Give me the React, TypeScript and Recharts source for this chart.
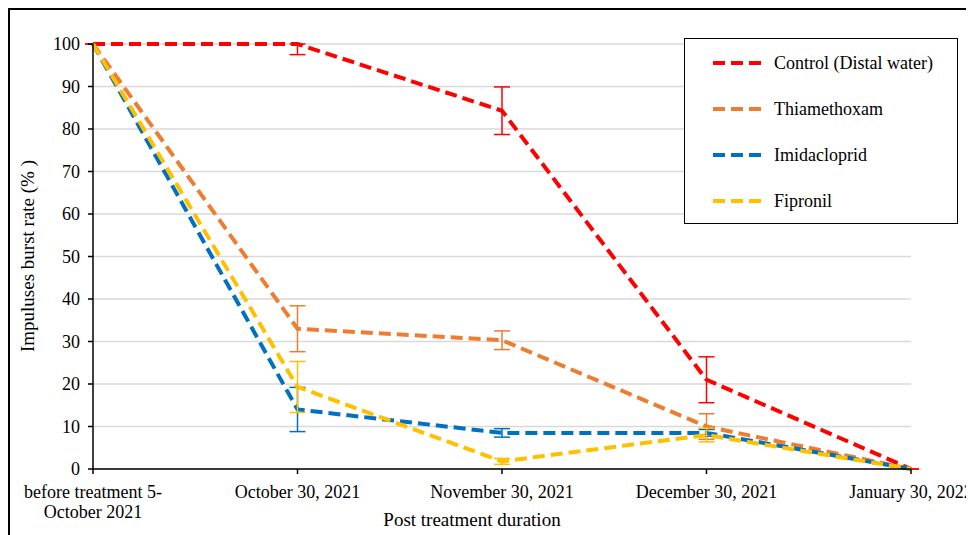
import React from "react"
import {
	LineChart,
	Line,
	XAxis,
	YAxis,
	CartesianGrid,
	ErrorBar,
	Label,
} from "recharts"

const categories = [
	"before treatment 5-|October 2021",
	"October 30, 2021",
	"November 30, 2021",
	"December 30, 2021",
	"January 30, 2022",
]

const control = [100, 100, 84.3, 21, 0]
const controlErr = [[0, 0], [2.5, 0], [5.6, 5.6], [5.4, 5.4], [0, 0]]
const thiamethoxam = [100, 33, 30.3, 10, 0]
const thiamethoxamErr = [0, 5.4, 2.2, 3, 0]
const imidacloprid = [100, 14, 8.5, 8.5, 0]
const imidaclopridErr = [0, 5.2, 1, 0.8, 0]
const fipronil = [100, 19.3, 1.8, 8, 0]
const fipronilErr = [0, 6, 0.7, 1.6, 0]

const yTicks = [0, 10, 20, 30, 40, 50, 60, 70, 80, 90, 100]

const series = [
	{ key: "control", name: "Control (Distal water)", color: "#FF0000" },
	{ key: "thiamethoxam", name: "Thiamethoxam", color: "#ED7D31" },
	{ key: "imidacloprid", name: "Imidacloprid", color: "#0070C0" },
	{ key: "fipronil", name: "Fipronil", color: "#FFC000" },
]

const data = categories.map((c, i) => ({
	cat: c,
	control: control[i],
	controlErr: controlErr[i],
	thiamethoxam: thiamethoxam[i],
	thiamethoxamErr: thiamethoxamErr[i],
	imidacloprid: imidacloprid[i],
	imidaclopridErr: imidaclopridErr[i],
	fipronil: fipronil[i],
	fipronilErr: fipronilErr[i],
}))

const font = "'Liberation Serif'"

const XTick = (props: any) => {
	const { x, y, payload } = props
	const lines = String(payload.value).split("|")
	return (
		<text x={x} y={y} textAnchor='middle' fill='#000' fontSize={18} fontFamily={font}>
			{lines.map((l, i) => (
				<tspan key={i} x={x} dy={i === 0 ? 22 : 20}>
					{l}
				</tspan>
			))}
		</text>
	)
}

const LegendBox = () => (
	<div
		style={{
			position: "absolute",
			left: 676,
			top: 30,
			width: 272,
			height: 184,
			border: "1.5px solid #000",
			background: "#fff",
			fontFamily: font,
			fontSize: 18,
		}}>
		{series.map((s, i) => (
			<div
				key={s.key}
				style={{ position: "absolute", left: 27, top: 12 + i * 46, height: 24, display: "flex", alignItems: "center" }}>
				<svg width={52} height={6}>
					<line x1={1} y1={3} x2={51} y2={3} stroke={s.color} strokeWidth={4} strokeDasharray='12 6' />
				</svg>
				<span style={{ marginLeft: 10, whiteSpace: "nowrap" }}>{s.name}</span>
			</div>
		))}
	</div>
)

export default function App() {
	return (
		<div style={{ position: "relative", width: 966, height: 527, overflow: "hidden" }}>
			<div
				style={{
					position: "absolute",
					left: 0,
					top: 0,
					width: 980,
					height: 540,
					borderLeft: "2px solid #000",
					borderTop: "2px solid #000",
				}}
			/>
			<LineChart
				width={966}
				height={527}
				data={data}
				style={{ position: "absolute", left: 0, top: 0 }}
				margin={{ top: 36, right: 63, left: 25, bottom: 36 }}>
				<CartesianGrid vertical={false} stroke='#d9d9d9' strokeWidth={1.5} />
				<XAxis
					dataKey='cat'
					interval={0}
					tick={<XTick />}
					tickSize={5}
					axisLine={{ stroke: "#000", strokeWidth: 1.5 }}
					tickLine={{ stroke: "#000", strokeWidth: 1.5 }}
					height={30}>
					<Label
						content={() => (
							<text x={464} y={518} textAnchor='middle' fontSize={19} fontFamily={font} fill='#000'>
								Post treatment duration
							</text>
						)}
					/>
				</XAxis>
				<YAxis
					width={60}
					domain={[0, 100]}
					ticks={yTicks}
					interval={0}
					tickSize={5}
					tickMargin={8}
					tick={{ fill: "#000", fontSize: 18, fontFamily: font }}
					axisLine={{ stroke: "#000", strokeWidth: 1.5 }}
					tickLine={{ stroke: "#000", strokeWidth: 1.5 }}>
					<Label
						content={() => (
							<text
								x={26}
								y={248}
								transform='rotate(-90 26 248)'
								textAnchor='middle'
								fontSize={19}
								fontFamily={font}
								fill='#000'>
								Impuluses burst rate   (% )
							</text>
						)}
					/>
				</YAxis>
				{series.map((s) => (
					<Line
						key={s.key}
						type='linear'
						dataKey={s.key}
						name={s.name}
						stroke={s.color}
						strokeWidth={4}
						strokeDasharray='12 6'
						dot={false}
						activeDot={false}
						isAnimationActive={false}>
						<ErrorBar dataKey={s.key + "Err"} width={8} stroke={s.color} strokeWidth={1.5} direction='y' />
					</Line>
				))}
			</LineChart>
			<LegendBox />
		</div>
	)
}
